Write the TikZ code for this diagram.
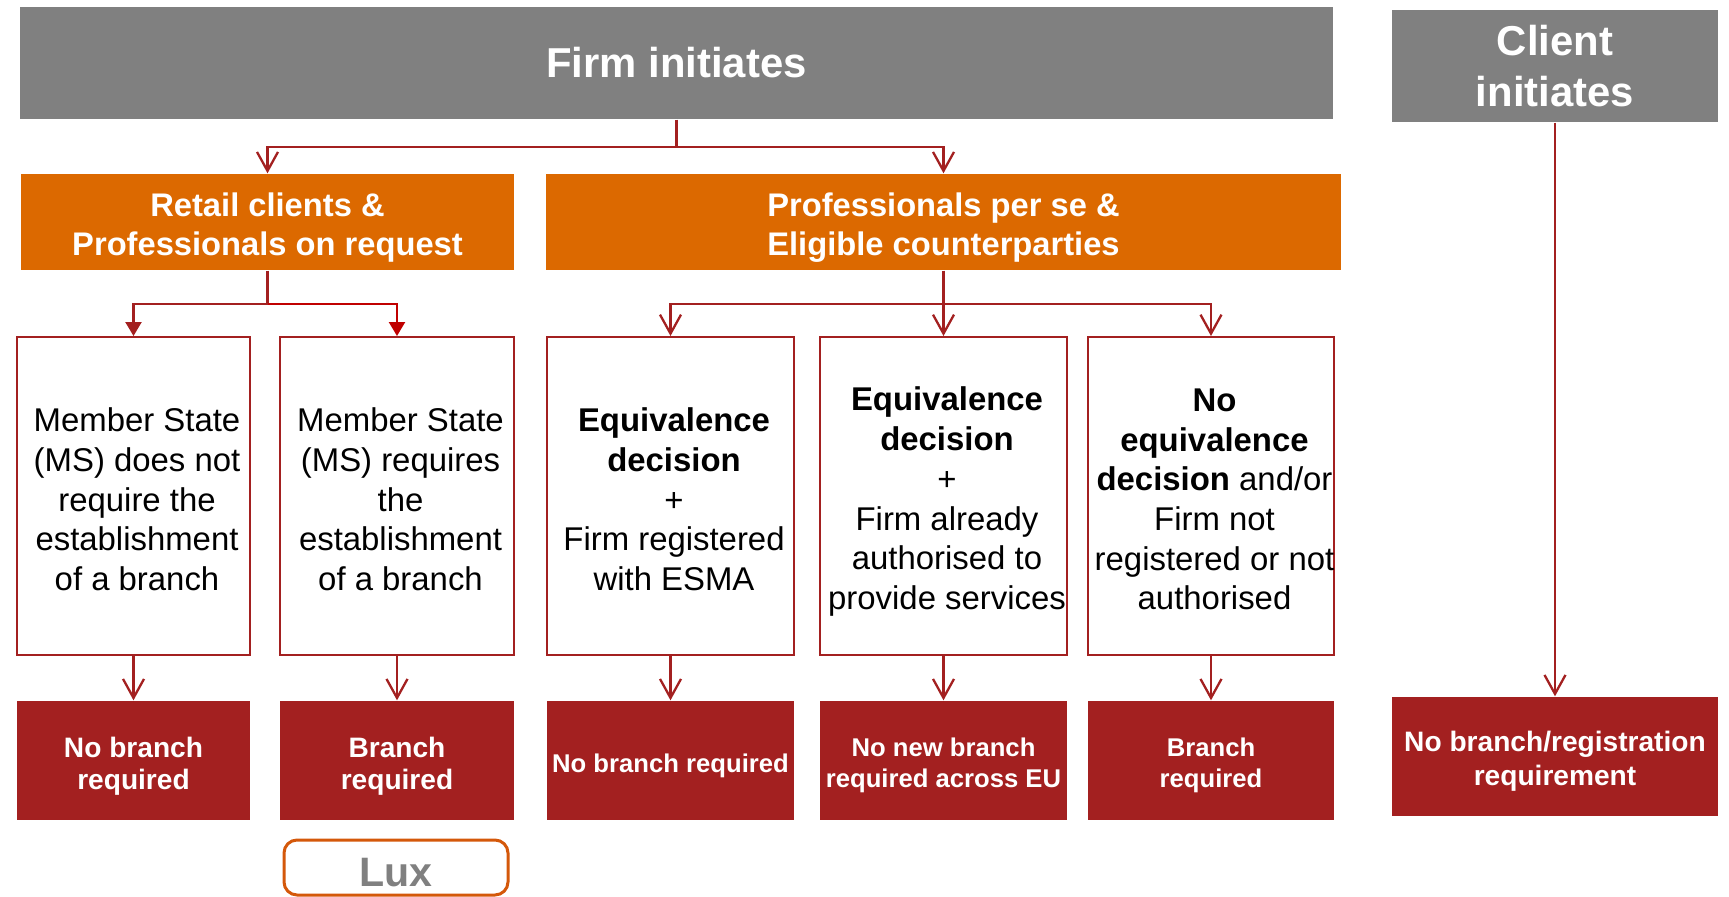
\documentclass[tikz,border=0pt]{standalone}
\usepackage{fontspec}
\setmainfont{Liberation Sans}
\usetikzlibrary{arrows.meta}
\definecolor{brgray}{HTML}{808080}
\definecolor{brorange}{HTML}{DC6900}
\definecolor{brred}{HTML}{A32020}
\definecolor{brbright}{HTML}{C00000}
\definecolor{brlux}{HTML}{D4580A}

\begin{document}
\begin{tikzpicture}[x=0.1mm,y=-0.1mm,
        drop/.style={text depth=0pt,execute at begin node={\lower#1\hbox\bgroup},
            execute at end node={\egroup}},
        conddrop/.style={text depth=0pt,execute at begin node={\kern2pt\lower#1\hbox\bgroup},
            execute at end node={\egroup}},
        head/.style={fill=brgray,text=white,align=center,inner sep=0pt,
            minimum height=11.2mm,font=\fontsize{11.9}{14.4}\selectfont\bfseries},
        group/.style={drop=1.2pt,fill=brorange,text=white,align=center,inner sep=0pt,
            minimum height=9.6mm,font=\fontsize{9.3}{11.3}\selectfont\bfseries},
        cond/.style={conddrop=1.9pt,draw=brred,line width=0.2mm,fill=white,align=center,
            inner sep=0pt,inner xsep=-1mm,
            minimum height=31.8mm,font=\fontsize{9.36}{11.3}\selectfont},
        result/.style={drop=1.4pt,fill=brred,text=white,align=center,inner sep=0pt,
            minimum height=11.9mm,font=\fontsize{8}{9.1}\selectfont\bfseries},
        smallresult/.style={result,font=\fontsize{7.3}{8.8}\selectfont\bfseries},
        wire/.style={draw=brred,line width=0.23mm},
        link/.style={wire,-{Straight Barb[length=1.9mm,width=2.1mm,line width=0.23mm]}},
        filledlink/.style={wire,-{Triangle[length=1.4mm,width=1.6mm]}}]
            \useasboundingbox (0,0) rectangle (1729,896);

            \node[head,minimum width=131.3mm] (firm) at (676.5,63) {Firm initiates};
            \node[head,minimum width=32.6mm] (client) at (1555,66) {Client\\initiates};

            \node[group,minimum width=49.3mm] (retail) at (267.5,222) {Retail clients \&\\Professionals on request};
            \node[group,minimum width=79.5mm] (prof) at (943.5,222) {Professionals per se \&\\Eligible counterparties};

            \node[cond,minimum width=23.3mm] (c1) at (133.5,496) {Member State\\(MS) does not\\require the\\establishment\\of a branch};
            \node[cond,minimum width=23.4mm] (c2) at (397,496) {Member State\\(MS) requires\\the\\establishment\\of a branch};
            \node[cond,minimum width=24.7mm] (c3) at (670.5,496) {\textbf{Equivalence}\\\textbf{decision}\\+\\Firm registered\\with ESMA};
            \node[cond,minimum width=24.7mm,drop=-0.6pt] (c4) at (943.5,496) {\textbf{Equivalence}\\\textbf{decision}\\+\\Firm already\\authorised to\\provide services};
            \node[cond,minimum width=24.6mm] (c5) at (1211,496) {\textbf{No}\\\textbf{equivalence}\\\textbf{decision} and/or\\Firm not\\registered or not\\authorised};

            \node[result,minimum width=23.3mm] (r1) at (133.5,760.5) {No branch\\required};
            \node[result,minimum width=23.4mm] (r2) at (397,760.5) {Branch\\required};
            \node[smallresult,minimum width=24.7mm,drop=0pt] (r3) at (670.5,760.5) {No branch required};
            \node[smallresult,minimum width=24.7mm] (r4) at (943.5,760.5) {No new branch\\required across EU};
            \node[smallresult,minimum width=24.6mm] (r5) at (1211,760.5) {Branch\\required};
            \node[result,minimum width=32.6mm,drop=-0.4pt,font=\fontsize{8}{9.7}\selectfont\bfseries]
                (rc) at (1555,756.5) {No branch/registration\\requirement};

            \node[drop=2.5pt,draw=brlux,line width=0.3mm,rounded corners=1.3mm,text=brgray,inner sep=0pt,
                minimum width=22.4mm,minimum height=5.5mm,font=\fontsize{11.7}{14}\selectfont\bfseries]
                (lux) at (396,867.5) {Lux};

            \coordinate (topfork) at (676.5,147);
            \coordinate (retfork) at (267.5,304);
            \coordinate (proffork) at (943.5,304);

            \draw[wire] (firm.south) -- (topfork);
            \draw[link] (topfork) -| (retail.north);
            \draw[link] (topfork) -| (prof.north);

            \draw[wire] (retail.south) -- (retfork);
            \draw[filledlink] (retfork) -| (c1.north);
            \draw[filledlink,draw=brbright] (retfork) -| (c2.north);

            \draw[link] (prof.south) -- (c4.north);
            \draw[link] (proffork) -| (c3.north);
            \draw[link] (proffork) -| (c5.north);

            \foreach \i in {1,...,5}
                \draw[link] (c\i.south) -- (r\i.north);
            \draw[link] (client.south) -- (rc.north);
        \end{tikzpicture}
\end{document}
